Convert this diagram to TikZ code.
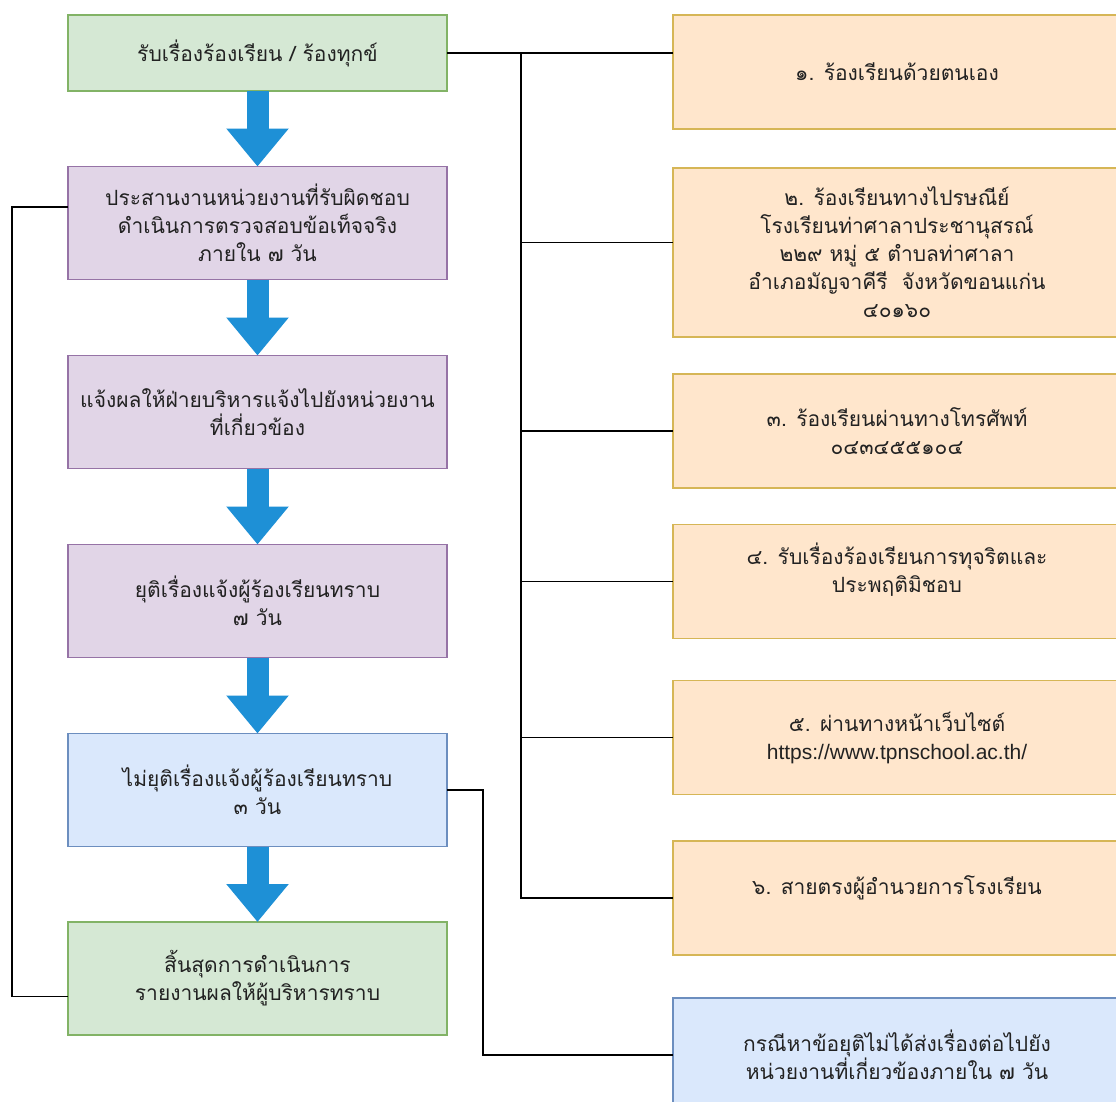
\documentclass[tikz,border=0pt]{standalone}
\usepackage{fontspec}
\setmainfont{Liberation Sans}
\newfontfamily\thaifont[Script=Thai]{Loma}
\usetikzlibrary{arrows.meta}
\definecolor{grnfill}{HTML}{D5E8D4}
\definecolor{grnline}{HTML}{82B366}
\definecolor{purfill}{HTML}{E1D5E7}
\definecolor{purline}{HTML}{9673A6}
\definecolor{blufill}{HTML}{DAE8FC}
\definecolor{bluline}{HTML}{6C8EBF}
\definecolor{orfill}{HTML}{FFE6CC}
\definecolor{orline}{HTML}{D6B656}
\definecolor{arrowblue}{HTML}{1E90D6}
\definecolor{textgrey}{HTML}{222222}
\begin{document}
\begin{tikzpicture}[x=1pt,y=-1pt,
    box/.style={draw, line width=1.2pt, inner sep=0pt, outer sep=0pt, align=center,
      text=textgrey, font=\thaifont\fontsize{21}{28}\selectfont},
    leftbox/.style={box, minimum width=379pt, minimum height=113pt},
    rightbox/.style={box, fill=orfill, draw=orline, minimum width=448pt, minimum height=114pt},
    link/.style={line width=1.5pt, black},
    flow/.style={line width=22pt, arrowblue, -{Triangle[width=60pt,length=38pt]}}]
  \fill[white] (0,0) rectangle (1116,1101);
  \useasboundingbox (0,0) rectangle (1116,1101);
  % left column
  \node[leftbox, minimum height=76pt, fill=grnfill, draw=grnline] (recv) at (257.5,53) {รับเรื่องร้องเรียน / ร้องทุกข์};
  \node[leftbox, fill=purfill, draw=purline] (coord) at (257.5,223) {ประสานงานหน่วยงานที่รับผิดชอบ\\ดำเนินการตรวจสอบข้อเท็จจริง\\ภายใน ๗ วัน};
  \node[leftbox, fill=purfill, draw=purline] (notify) at (257.5,412) {แจ้งผลให้ฝ่ายบริหารแจ้งไปยังหน่วยงาน\\ที่เกี่ยวข้อง};
  \node[leftbox, fill=purfill, draw=purline] (close) at (257.5,601) {ยุติเรื่องแจ้งผู้ร้องเรียนทราบ\\๗ วัน};
  \node[leftbox, fill=blufill, draw=bluline] (open) at (257.5,790) {ไม่ยุติเรื่องแจ้งผู้ร้องเรียนทราบ\\๓ วัน};
  \node[leftbox, fill=grnfill, draw=grnline] (finish) at (257.5,978.5) {สิ้นสุดการดำเนินการ\\รายงานผลให้ผู้บริหารทราบ};
  % right column
  \node[rightbox] (w1) at (897,72) {๑. ร้องเรียนด้วยตนเอง};
  \node[rightbox, minimum height=169pt] (w2) at (897,252.5) {๒. ร้องเรียนทางไปรษณีย์\\โรงเรียนท่าศาลาประชานุสรณ์\\๒๒๙ หมู่ ๕ ตำบลท่าศาลา\\อำเภอมัญจาคีรี~ จังหวัดขอนแก่น\\๔๐๑๖๐};
  \node[rightbox] (w3) at (897,431) {๓. ร้องเรียนผ่านทางโทรศัพท์\\๐๔๓๔๕๕๑๐๔};
  \node[rightbox, text depth=28pt] (w4) at (897,581.5) {๔. รับเรื่องร้องเรียนการทุจริตและ\\ประพฤติมิชอบ};
  \node[rightbox] (w5) at (897,737.5) {๕. ผ่านทางหน้าเว็บไซต์\\{\normalfont\fontsize{21}{28}\selectfont https://www.tpnschool.ac.th/}};
  \node[rightbox, text depth=26pt] (w6) at (897,898) {๖. สายตรงผู้อำนวยการโรงเรียน};
  \node[rightbox, fill=blufill, draw=bluline] (fwd) at (897,1055) {กรณีหาข้อยุติไม่ได้ส่งเรื่องต่อไปยัง\\หน่วยงานที่เกี่ยวข้องภายใน ๗ วัน};
  % connectors
  \coordinate (trunk) at (521,53);
  \coordinate (loop) at (12,600);
  \coordinate (side) at (483,900);
  \draw[link] (recv.east) -- (recv.east -| w1.west);
  \draw[link] (trunk) |- ([yshift=10pt]w2.west);
  \foreach \n in {w3,w4,w5,w6}
    \draw[link] (trunk) |- (\n.west);
  \draw[link] ([yshift=16pt]coord.west) -| (loop) |- ([yshift=-18pt]finish.west);
  \draw[link] (open.east) -| (side) |- (fwd.west);
  \foreach \a/\b in {recv/coord, coord/notify, notify/close, close/open, open/finish}
    \draw[flow] (\a) -- (\b);
\end{tikzpicture}
\end{document}
